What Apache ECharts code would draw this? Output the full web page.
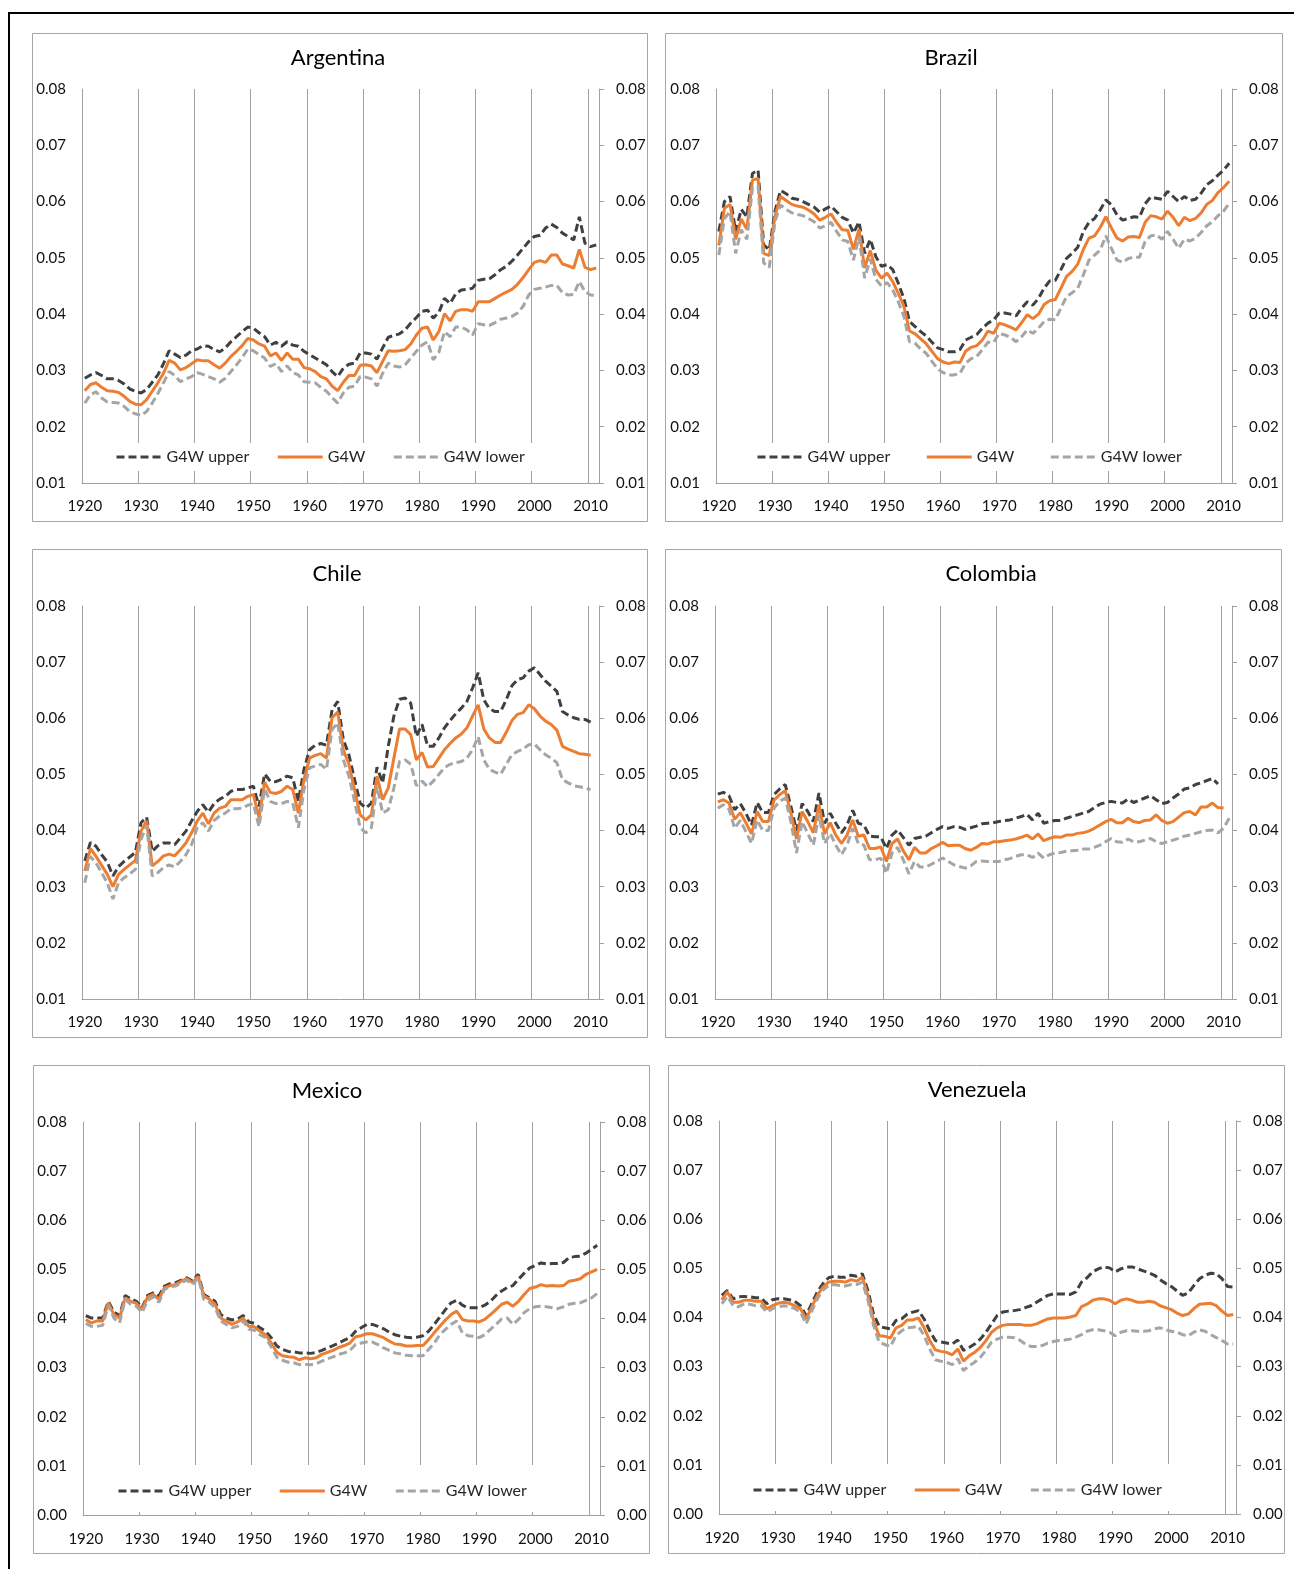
<!DOCTYPE html>
<html><head><meta charset="utf-8">
<script src="https://cdn.jsdelivr.net/npm/echarts@6/dist/echarts.min.js"></script>
<style>html,body{margin:0;padding:0;background:#fff;} #c{width:1294px;height:1569px;}</style>
</head><body><div id="c"></div>
<script>
const YEARS = [1920,1921,1922,1923,1924,1925,1926,1927,1928,1929,1930,1931,1932,1933,1934,1935,1936,1937,1938,1939,
1940,1941,1942,1943,1944,1945,1946,1947,1948,1949,1950,1951,1952,1953,1954,1955,1956,1957,1958,1959,
1960,1961,1962,1963,1964,1965,1966,1967,1968,1969,1970,1971,1972,1973,1974,1975,1976,1977,1978,1979,
1980,1981,1982,1983,1984,1985,1986,1987,1988,1989,1990,1991,1992,1993,1994,1995,1996,1997,1998,1999,
2000,2001,2002,2003,2004,2005,2006,2007,2008,2009,2010,2011];
const SERIES_NAMES = ['G4W upper', 'G4W', 'G4W lower'];

const ARG_UP = [0.0286,0.0292,0.0296,0.0291,0.0285,0.0285,0.0282,0.0276,0.0267,0.0263,
0.0260,0.0266,0.0279,0.0292,0.0312,0.0335,0.0329,0.0323,0.0327,0.0335,
0.0338,0.0344,0.0343,0.0337,0.0333,0.0340,0.0351,0.0360,0.0369,0.0377,
0.0375,0.0367,0.0360,0.0345,0.0350,0.0343,0.0351,0.0345,0.0343,0.0334,
0.0328,0.0322,0.0316,0.0310,0.0298,0.0289,0.0304,0.0311,0.0313,0.0331,
0.0331,0.0329,0.0320,0.0340,0.0359,0.0362,0.0365,0.0372,0.0384,0.0394,
0.0405,0.0407,0.0393,0.0403,0.0428,0.0419,0.0436,0.0443,0.0444,0.0446,
0.0460,0.0462,0.0463,0.0470,0.0479,0.0485,0.0494,0.0505,0.0517,0.0529,
0.0538,0.0540,0.0553,0.0560,0.0554,0.0544,0.0538,0.0532,0.0573,0.0526,
0.0520,0.0523];
const ARG_MID = [0.0264,0.0275,0.0278,0.0270,0.0264,0.0263,0.0261,0.0254,0.0245,0.0240,
0.0239,0.0248,0.0263,0.0278,0.0295,0.0318,0.0313,0.0301,0.0305,0.0312,
0.0319,0.0317,0.0317,0.0310,0.0304,0.0313,0.0325,0.0334,0.0344,0.0357,
0.0354,0.0347,0.0343,0.0326,0.0331,0.0318,0.0331,0.0320,0.0320,0.0305,
0.0303,0.0298,0.0289,0.0285,0.0272,0.0264,0.0279,0.0291,0.0291,0.0309,
0.0310,0.0308,0.0296,0.0316,0.0335,0.0334,0.0335,0.0337,0.0347,0.0363,
0.0375,0.0377,0.0354,0.0369,0.0401,0.0388,0.0405,0.0408,0.0408,0.0405,
0.0422,0.0422,0.0422,0.0428,0.0434,0.0439,0.0444,0.0453,0.0465,0.0479,
0.0492,0.0495,0.0492,0.0505,0.0505,0.0489,0.0486,0.0482,0.0515,0.0483,
0.0479,0.0482];
const ARG_LO = [0.0242,0.0257,0.0262,0.0251,0.0244,0.0243,0.0242,0.0236,0.0227,0.0223,
0.0220,0.0227,0.0242,0.0259,0.0278,0.0298,0.0291,0.0280,0.0285,0.0289,
0.0296,0.0293,0.0289,0.0285,0.0279,0.0286,0.0298,0.0310,0.0323,0.0338,
0.0335,0.0328,0.0322,0.0307,0.0312,0.0298,0.0308,0.0296,0.0292,0.0280,
0.0279,0.0278,0.0270,0.0263,0.0252,0.0242,0.0260,0.0270,0.0272,0.0289,
0.0288,0.0285,0.0272,0.0295,0.0313,0.0308,0.0306,0.0310,0.0322,0.0334,
0.0345,0.0351,0.0319,0.0332,0.0369,0.0360,0.0377,0.0377,0.0372,0.0363,
0.0383,0.0381,0.0380,0.0385,0.0391,0.0393,0.0396,0.0402,0.0414,0.0434,
0.0444,0.0446,0.0448,0.0451,0.0451,0.0438,0.0434,0.0435,0.0458,0.0440,
0.0434,0.0433];

const BRA_UP = [0.0547,0.0600,0.0609,0.0547,0.0586,0.0573,0.0650,0.0656,0.0523,0.0514,
0.0582,0.0620,0.0614,0.0606,0.0604,0.0600,0.0595,0.0590,0.0581,0.0587,
0.0592,0.0582,0.0572,0.0567,0.0544,0.0564,0.0508,0.0533,0.0502,0.0485,
0.0488,0.0479,0.0455,0.0428,0.0387,0.0378,0.0369,0.0361,0.0350,0.0340,
0.0337,0.0333,0.0333,0.0337,0.0354,0.0359,0.0364,0.0375,0.0384,0.0390,
0.0402,0.0402,0.0400,0.0397,0.0411,0.0422,0.0416,0.0428,0.0446,0.0459,
0.0460,0.0479,0.0499,0.0508,0.0519,0.0547,0.0563,0.0570,0.0585,0.0603,
0.0594,0.0576,0.0567,0.0570,0.0573,0.0572,0.0596,0.0608,0.0606,0.0604,
0.0618,0.0609,0.0600,0.0609,0.0602,0.0604,0.0615,0.0630,0.0637,0.0647,
0.0656,0.0668];
const BRA_MID = [0.0522,0.0588,0.0595,0.0533,0.0569,0.0551,0.0638,0.0641,0.0508,0.0504,
0.0573,0.0609,0.0602,0.0595,0.0592,0.0590,0.0585,0.0578,0.0567,0.0572,
0.0578,0.0563,0.0550,0.0549,0.0515,0.0551,0.0482,0.0513,0.0478,0.0464,
0.0473,0.0458,0.0437,0.0414,0.0370,0.0365,0.0356,0.0347,0.0334,0.0321,
0.0315,0.0312,0.0315,0.0314,0.0334,0.0341,0.0344,0.0354,0.0370,0.0366,
0.0384,0.0381,0.0377,0.0372,0.0385,0.0399,0.0392,0.0400,0.0417,0.0424,
0.0426,0.0446,0.0467,0.0476,0.0489,0.0515,0.0535,0.0539,0.0554,0.0573,
0.0553,0.0535,0.0530,0.0537,0.0538,0.0536,0.0563,0.0575,0.0573,0.0569,
0.0583,0.0572,0.0557,0.0572,0.0566,0.0570,0.0580,0.0595,0.0602,0.0616,
0.0625,0.0636];
const BRA_LO = [0.0505,0.0570,0.0582,0.0508,0.0550,0.0533,0.0624,0.0627,0.0491,0.0483,
0.0564,0.0594,0.0586,0.0580,0.0577,0.0575,0.0570,0.0564,0.0553,0.0557,
0.0563,0.0547,0.0532,0.0529,0.0496,0.0537,0.0464,0.0498,0.0462,0.0450,
0.0456,0.0443,0.0422,0.0396,0.0351,0.0348,0.0338,0.0330,0.0316,0.0303,
0.0296,0.0292,0.0292,0.0295,0.0313,0.0321,0.0325,0.0337,0.0350,0.0350,
0.0366,0.0363,0.0359,0.0351,0.0360,0.0372,0.0366,0.0375,0.0387,0.0391,
0.0390,0.0411,0.0431,0.0438,0.0446,0.0470,0.0496,0.0505,0.0514,0.0539,
0.0517,0.0496,0.0492,0.0499,0.0501,0.0501,0.0529,0.0539,0.0541,0.0533,
0.0547,0.0533,0.0517,0.0533,0.0530,0.0535,0.0545,0.0557,0.0564,0.0575,
0.0583,0.0597];

const CHL_UP = [0.0346,0.0379,0.0372,0.0357,0.0344,0.0319,0.0336,0.0345,0.0353,0.0361,
0.0414,0.0424,0.0363,0.0373,0.0378,0.0378,0.0375,0.0387,0.0399,0.0417,
0.0434,0.0446,0.0433,0.0448,0.0456,0.0461,0.0470,0.0473,0.0473,0.0476,
0.0479,0.0443,0.0501,0.0488,0.0487,0.0491,0.0497,0.0494,0.0452,0.0509,
0.0544,0.0552,0.0555,0.0552,0.0615,0.0630,0.0562,0.0535,0.0491,0.0449,
0.0440,0.0449,0.0513,0.0485,0.0550,0.0604,0.0634,0.0636,0.0627,0.0568,
0.0589,0.0550,0.0550,0.0565,0.0583,0.0596,0.0608,0.0618,0.0630,0.0654,
0.0681,0.0633,0.0617,0.0612,0.0612,0.0633,0.0658,0.0669,0.0672,0.0684,
0.0690,0.0678,0.0666,0.0657,0.0648,0.0612,0.0606,0.0601,0.0598,0.0598,
0.0593,null];
const CHL_MID = [0.0328,0.0368,0.0354,0.0338,0.0322,0.0300,0.0322,0.0331,0.0339,0.0347,
0.0399,0.0417,0.0337,0.0345,0.0355,0.0358,0.0355,0.0366,0.0378,0.0396,
0.0417,0.0431,0.0412,0.0431,0.0440,0.0443,0.0455,0.0455,0.0455,0.0461,
0.0464,0.0423,0.0486,0.0468,0.0466,0.0470,0.0479,0.0473,0.0431,0.0491,
0.0529,0.0534,0.0537,0.0529,0.0601,0.0611,0.0544,0.0518,0.0473,0.0428,
0.0419,0.0428,0.0497,0.0455,0.0476,0.0529,0.0581,0.0581,0.0571,0.0526,
0.0539,0.0513,0.0514,0.0529,0.0544,0.0555,0.0565,0.0572,0.0583,0.0604,
0.0624,0.0581,0.0565,0.0557,0.0557,0.0575,0.0596,0.0607,0.0610,0.0624,
0.0617,0.0604,0.0595,0.0589,0.0579,0.0550,0.0545,0.0541,0.0537,0.0536,
0.0534,null];
const CHL_LO = [0.0307,0.0354,0.0342,0.0325,0.0307,0.0278,0.0307,0.0316,0.0323,0.0331,
0.0384,0.0409,0.0319,0.0325,0.0334,0.0339,0.0335,0.0345,0.0357,0.0375,
0.0405,0.0414,0.0399,0.0418,0.0426,0.0431,0.0439,0.0439,0.0440,0.0445,
0.0448,0.0407,0.0474,0.0452,0.0448,0.0448,0.0452,0.0449,0.0405,0.0473,
0.0512,0.0515,0.0518,0.0509,0.0580,0.0592,0.0526,0.0497,0.0452,0.0405,
0.0396,0.0405,0.0479,0.0431,0.0437,0.0476,0.0523,0.0526,0.0518,0.0480,
0.0488,0.0478,0.0488,0.0500,0.0512,0.0518,0.0521,0.0523,0.0529,0.0544,
0.0567,0.0526,0.0509,0.0504,0.0500,0.0518,0.0535,0.0541,0.0545,0.0553,
0.0554,0.0544,0.0535,0.0529,0.0521,0.0491,0.0485,0.0480,0.0478,0.0476,
0.0473,null];

const COL_UP = [0.0465,0.0468,0.0462,0.0437,0.0448,0.0431,0.0410,0.0450,0.0432,0.0432,
0.0464,0.0474,0.0482,0.0443,0.0400,0.0448,0.0434,0.0416,0.0467,0.0413,
0.0431,0.0413,0.0396,0.0410,0.0436,0.0413,0.0410,0.0390,0.0389,0.0389,
0.0368,0.0392,0.0401,0.0388,0.0374,0.0386,0.0388,0.0390,0.0396,0.0402,
0.0407,0.0404,0.0407,0.0406,0.0402,0.0405,0.0408,0.0412,0.0413,0.0414,
0.0416,0.0418,0.0419,0.0422,0.0425,0.0429,0.0419,0.0431,0.0413,0.0416,
0.0418,0.0418,0.0422,0.0425,0.0428,0.0431,0.0434,0.0441,0.0447,0.0450,
0.0452,0.0450,0.0449,0.0456,0.0450,0.0454,0.0458,0.0462,0.0455,0.0448,
0.0450,0.0458,0.0465,0.0474,0.0476,0.0482,0.0485,0.0489,0.0493,0.0483,
null,null];
const COL_MID = [0.0451,0.0455,0.0449,0.0420,0.0432,0.0414,0.0394,0.0434,0.0416,0.0416,
0.0454,0.0464,0.0471,0.0431,0.0385,0.0434,0.0416,0.0396,0.0446,0.0394,
0.0414,0.0392,0.0377,0.0392,0.0419,0.0390,0.0392,0.0368,0.0368,0.0371,
0.0345,0.0377,0.0385,0.0364,0.0348,0.0370,0.0360,0.0360,0.0368,0.0373,
0.0379,0.0373,0.0374,0.0374,0.0368,0.0365,0.0370,0.0377,0.0376,0.0380,
0.0380,0.0382,0.0383,0.0385,0.0388,0.0392,0.0385,0.0394,0.0382,0.0386,
0.0389,0.0388,0.0392,0.0392,0.0395,0.0396,0.0399,0.0404,0.0410,0.0416,
0.0420,0.0414,0.0414,0.0422,0.0416,0.0414,0.0418,0.0419,0.0428,0.0418,
0.0413,0.0416,0.0424,0.0432,0.0434,0.0428,0.0442,0.0442,0.0449,0.0441,
0.0440,null];
const COL_LO = [0.0440,0.0446,0.0438,0.0404,0.0418,0.0398,0.0377,0.0419,0.0400,0.0400,
0.0440,0.0452,0.0458,0.0416,0.0360,0.0416,0.0395,0.0374,0.0428,0.0377,
0.0395,0.0374,0.0357,0.0374,0.0404,0.0377,0.0374,0.0348,0.0348,0.0351,
0.0324,0.0360,0.0370,0.0348,0.0323,0.0345,0.0335,0.0335,0.0340,0.0345,
0.0351,0.0345,0.0339,0.0336,0.0333,0.0337,0.0345,0.0346,0.0345,0.0345,
0.0345,0.0348,0.0350,0.0354,0.0357,0.0357,0.0352,0.0360,0.0351,0.0357,
0.0360,0.0361,0.0363,0.0364,0.0365,0.0367,0.0367,0.0370,0.0374,0.0380,
0.0386,0.0380,0.0379,0.0385,0.0380,0.0380,0.0383,0.0386,0.0380,0.0377,
0.0380,0.0383,0.0386,0.0390,0.0392,0.0395,0.0398,0.0400,0.0401,0.0396,
0.0404,0.0422];

const MEX_UP = [0.0406,0.0401,0.0401,0.0401,0.0435,0.0413,0.0406,0.0447,0.0440,0.0435,
0.0422,0.0447,0.0452,0.0446,0.0466,0.0471,0.0473,0.0478,0.0483,0.0476,
0.0490,0.0449,0.0442,0.0435,0.0408,0.0401,0.0397,0.0399,0.0406,0.0393,
0.0390,0.0381,0.0374,0.0361,0.0344,0.0337,0.0333,0.0332,0.0330,0.0330,
0.0329,0.0331,0.0335,0.0340,0.0345,0.0350,0.0356,0.0361,0.0374,0.0381,
0.0388,0.0388,0.0384,0.0379,0.0372,0.0367,0.0364,0.0362,0.0361,0.0362,
0.0365,0.0374,0.0388,0.0403,0.0418,0.0432,0.0437,0.0427,0.0422,0.0422,
0.0422,0.0427,0.0435,0.0447,0.0456,0.0463,0.0467,0.0480,0.0492,0.0503,
0.0508,0.0513,0.0511,0.0512,0.0512,0.0514,0.0524,0.0526,0.0527,0.0533,
0.0541,0.0549];
const MEX_MID = [0.0398,0.0391,0.0395,0.0395,0.0432,0.0408,0.0401,0.0442,0.0435,0.0431,
0.0418,0.0444,0.0449,0.0439,0.0463,0.0467,0.0469,0.0476,0.0481,0.0473,
0.0486,0.0446,0.0439,0.0429,0.0401,0.0395,0.0388,0.0393,0.0401,0.0384,
0.0383,0.0374,0.0367,0.0350,0.0331,0.0324,0.0322,0.0321,0.0316,0.0320,
0.0318,0.0320,0.0327,0.0331,0.0335,0.0341,0.0345,0.0350,0.0363,0.0365,
0.0369,0.0369,0.0365,0.0361,0.0354,0.0348,0.0347,0.0344,0.0344,0.0345,
0.0345,0.0357,0.0371,0.0384,0.0397,0.0408,0.0415,0.0398,0.0395,0.0395,
0.0393,0.0398,0.0408,0.0418,0.0429,0.0433,0.0425,0.0435,0.0449,0.0461,
0.0464,0.0469,0.0466,0.0467,0.0466,0.0467,0.0476,0.0478,0.0481,0.0490,
0.0495,0.0500];
const MEX_LO = [0.0390,0.0384,0.0384,0.0386,0.0427,0.0401,0.0391,0.0439,0.0429,0.0425,
0.0412,0.0437,0.0444,0.0433,0.0459,0.0465,0.0466,0.0473,0.0478,0.0469,
0.0483,0.0439,0.0433,0.0422,0.0395,0.0388,0.0381,0.0384,0.0395,0.0378,
0.0376,0.0367,0.0361,0.0342,0.0321,0.0315,0.0311,0.0310,0.0306,0.0307,
0.0306,0.0308,0.0313,0.0318,0.0322,0.0327,0.0330,0.0335,0.0347,0.0350,
0.0352,0.0352,0.0347,0.0340,0.0335,0.0330,0.0328,0.0325,0.0324,0.0324,
0.0324,0.0337,0.0350,0.0367,0.0378,0.0388,0.0395,0.0371,0.0365,0.0364,
0.0361,0.0367,0.0378,0.0388,0.0399,0.0401,0.0388,0.0398,0.0412,0.0420,
0.0424,0.0425,0.0424,0.0422,0.0420,0.0424,0.0429,0.0431,0.0432,0.0437,
0.0442,0.0451];

const VEN_UP = [0.0445,0.0455,0.0438,0.0442,0.0443,0.0442,0.0440,0.0440,0.0428,0.0436,
0.0438,0.0438,0.0436,0.0433,0.0424,0.0404,0.0428,0.0452,0.0469,0.0481,
0.0484,0.0482,0.0482,0.0486,0.0484,0.0489,0.0455,0.0407,0.0382,0.0379,
0.0377,0.0394,0.0397,0.0407,0.0411,0.0414,0.0397,0.0373,0.0353,0.0350,
0.0348,0.0346,0.0354,0.0333,0.0339,0.0346,0.0356,0.0370,0.0387,0.0404,
0.0411,0.0413,0.0414,0.0416,0.0420,0.0424,0.0431,0.0438,0.0445,0.0448,
0.0448,0.0448,0.0447,0.0452,0.0472,0.0481,0.0493,0.0499,0.0503,0.0501,
0.0493,0.0499,0.0503,0.0503,0.0499,0.0495,0.0491,0.0486,0.0477,0.0469,
0.0463,0.0454,0.0445,0.0450,0.0465,0.0479,0.0486,0.0490,0.0489,0.0479,
0.0463,0.0462];
const VEN_MID = [0.0436,0.0452,0.0431,0.0431,0.0435,0.0435,0.0433,0.0433,0.0418,0.0424,
0.0429,0.0431,0.0429,0.0424,0.0418,0.0397,0.0421,0.0445,0.0462,0.0472,
0.0474,0.0474,0.0472,0.0477,0.0474,0.0482,0.0445,0.0394,0.0363,0.0362,
0.0358,0.0379,0.0384,0.0395,0.0395,0.0399,0.0379,0.0353,0.0334,0.0331,
0.0329,0.0324,0.0336,0.0311,0.0322,0.0329,0.0339,0.0353,0.0370,0.0379,
0.0384,0.0386,0.0386,0.0386,0.0384,0.0384,0.0387,0.0392,0.0397,0.0399,
0.0399,0.0399,0.0401,0.0404,0.0422,0.0427,0.0435,0.0438,0.0438,0.0435,
0.0428,0.0435,0.0438,0.0435,0.0431,0.0431,0.0433,0.0431,0.0424,0.0420,
0.0416,0.0409,0.0404,0.0407,0.0418,0.0427,0.0428,0.0429,0.0424,0.0413,
0.0404,0.0406];
const VEN_LO = [0.0428,0.0443,0.0424,0.0422,0.0428,0.0427,0.0424,0.0424,0.0411,0.0418,
0.0422,0.0424,0.0422,0.0418,0.0411,0.0387,0.0413,0.0438,0.0456,0.0465,
0.0467,0.0465,0.0464,0.0467,0.0467,0.0472,0.0436,0.0384,0.0350,0.0345,
0.0341,0.0363,0.0373,0.0379,0.0380,0.0382,0.0363,0.0336,0.0314,0.0311,
0.0309,0.0304,0.0316,0.0292,0.0302,0.0309,0.0319,0.0333,0.0350,0.0356,
0.0360,0.0360,0.0359,0.0354,0.0346,0.0341,0.0341,0.0343,0.0348,0.0351,
0.0353,0.0354,0.0356,0.0360,0.0365,0.0372,0.0375,0.0375,0.0373,0.0370,
0.0363,0.0370,0.0373,0.0373,0.0372,0.0372,0.0373,0.0377,0.0379,0.0375,
0.0372,0.0370,0.0365,0.0363,0.0370,0.0375,0.0372,0.0365,0.0359,0.0353,
0.0346,0.0346];

const PANELS = [
  {title:'Argentina', data:[ARG_UP,ARG_MID,ARG_LO], grid:[82,89,517,394], yMin:0.01, tx:338, ty:47, box:[32,33,647,521], xm:16, legend:{left:105, top:443, gap:27, pad:[6,30,6,10]}},
  {title:'Brazil', data:[BRA_UP,BRA_MID,BRA_LO], grid:[716,89,516,394], yMin:0.01, tx:951, ty:47, box:[665,33,1282,521], xm:16, legend:{left:746, top:443, gap:35, pad:[6,30,6,10]}},
  {title:'Chile', data:[CHL_UP,CHL_MID,CHL_LO], grid:[82,606,517,393], yMin:0.01, tx:337, ty:563, box:[32,549,647,1037], xm:16, legend:null},
  {title:'Colombia', data:[COL_UP,COL_MID,COL_LO], grid:[715,606,517,393], yMin:0.01, tx:991, ty:563, box:[665,549,1281,1037], xm:16, legend:null},
  {title:'Mexico', data:[MEX_UP,MEX_MID,MEX_LO], grid:[83,1122,517,393], yMin:0.00, tx:327, ty:1080, box:[33,1065,649,1553], xm:17, legend:{left:107, top:1465, gap:27, pad:[18,35,13,10]}},
  {title:'Venezuela', data:[VEN_UP,VEN_MID,VEN_LO], grid:[719,1121,517,393], yMin:0.00, tx:977, ty:1079, box:[668,1065,1284,1553], xm:17, legend:{left:742, top:1464, gap:27, pad:[18,35,13,10]}}
];

const FONT = 'Lato, "Open Sans", sans-serif';
const GRID_C = '#a0a0a0';
const TXT_C = '#111111';
const STYLES = [
  {color:'#404040', type:[8,4]},
  {color:'#ED7D31', type:'solid'},
  {color:'#A5A5A5', type:[8,4]}
];

const chart = echarts.init(document.getElementById('c'), null, {renderer:'canvas', width:1294, height:1569});
const option = {animation:false, backgroundColor:'#ffffff', title:[], grid:[], xAxis:[], yAxis:[], series:[], legend:[], graphic:[]};

option.graphic.push({type:'line', silent:true, shape:{x1:8, y1:13, x2:1294, y2:13}, style:{stroke:'#000', lineWidth:2}});
option.graphic.push({type:'line', silent:true, shape:{x1:9, y1:12, x2:9, y2:1569}, style:{stroke:'#000', lineWidth:2}});

PANELS.forEach((p, i) => {
  const b = p.box;
  option.graphic.push({type:'rect', silent:true, z:-10, shape:{x:b[0]+0.5, y:b[1]+0.5, width:b[2]-b[0], height:b[3]-b[1]}, style:{fill:'none', stroke:'#a6a6a6', lineWidth:1}});
  option.title.push({text:p.title, left:p.tx, top:p.ty, textAlign:'center', padding:0,
    textStyle:{fontSize:22, fontWeight:'normal', color:'#000', fontFamily:FONT}});
  option.grid.push({left:p.grid[0], top:p.grid[1], width:p.grid[2], height:p.grid[3], outerBoundsMode:'none', containLabel:false});
  option.xAxis.push({type:'category', gridIndex:i, data:YEARS, boundaryGap:true,
    axisLine:{show:true, lineStyle:{color:GRID_C, width:1}}, axisTick:{show:false},
    axisLabel:{interval:9, margin:p.xm, fontSize:15, color:TXT_C, fontFamily:FONT},
    splitLine:{show:true, interval:9, lineStyle:{color:GRID_C, width:1}}});
  const yBase = {type:'value', gridIndex:i, min:p.yMin, max:0.08, interval:0.01, splitLine:{show:false}};
  option.yAxis.push(Object.assign({}, yBase, {position:'left',
    axisLine:{show:true, lineStyle:{color:GRID_C}}, axisTick:{show:false},
    axisLabel:{margin:16, fontSize:15, color:TXT_C, fontFamily:FONT, formatter:v => v.toFixed(2)}}));
  option.yAxis.push(Object.assign({}, yBase, {position:'right',
    axisLine:{show:true, lineStyle:{color:GRID_C}}, axisTick:{show:true, inside:false, length:5, lineStyle:{color:GRID_C}},
    axisLabel:{margin:17, fontSize:15, color:TXT_C, fontFamily:FONT, formatter:v => v.toFixed(2)}}));
  SERIES_NAMES.forEach((name, k) => {
    option.series.push({type:'line', name:name, xAxisIndex:i, yAxisIndex:2*i, data:p.data[k],
      symbol:'none', showSymbol:false, connectNulls:false,
      lineStyle:{color:STYLES[k].color, width:3, type:STYLES[k].type, cap:'butt'},
      itemStyle:{color:STYLES[k].color}, z:2+k});
  });
  if (p.legend) {
    option.legend.push({data:SERIES_NAMES, left:p.legend.left, top:p.legend.top, orient:'horizontal',
      itemWidth:45, itemHeight:14, itemGap:p.legend.gap, padding:p.legend.pad, backgroundColor:'#ffffff',
      selectedMode:false, z:10,
      itemStyle:{opacity:0, borderWidth:0},
      lineStyle:{width:3},
      textStyle:{fontSize:16, color:'#262626', fontFamily:FONT, lineHeight:16}});
  }
});

chart.setOption(option);
</script>
</body></html>
